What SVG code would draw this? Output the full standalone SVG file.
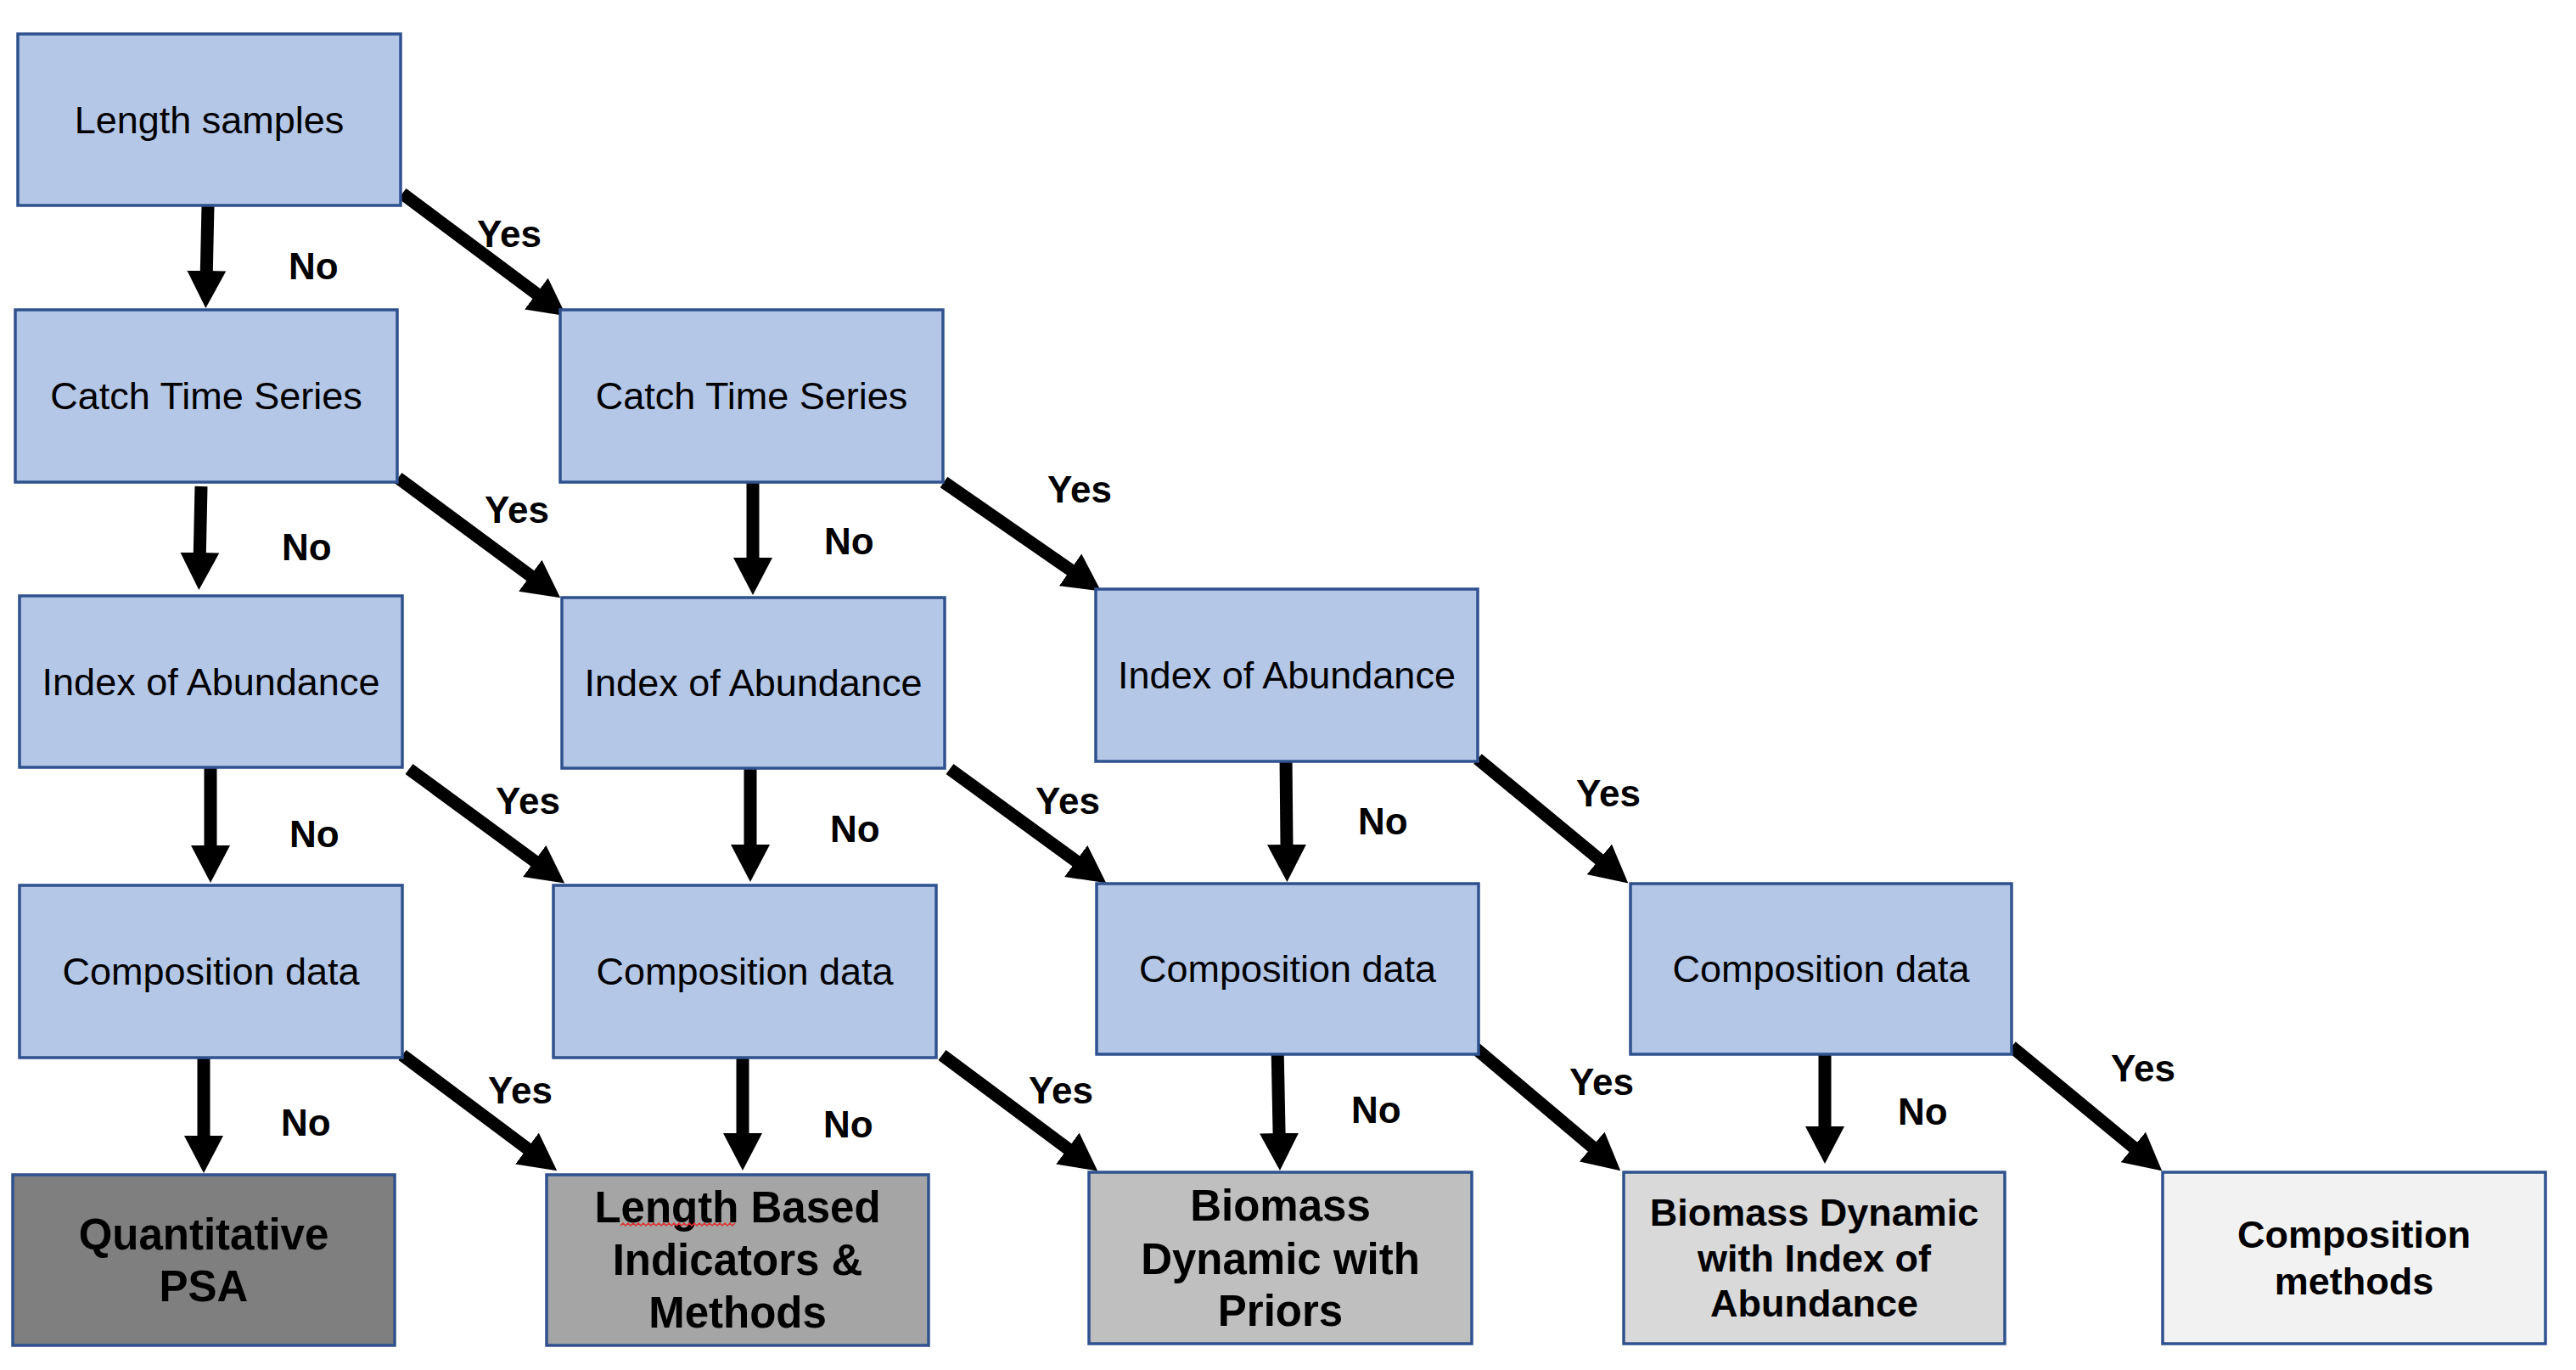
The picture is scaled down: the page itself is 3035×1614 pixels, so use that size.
<svg xmlns="http://www.w3.org/2000/svg" width="3035" height="1614" viewBox="0 0 3035 1614">
<style>
.n{fill:#B4C7E7;stroke:#2F528F;stroke-width:3.5}
.t{font-family:"Liberation Sans",Arial,sans-serif;font-size:45px;fill:#000;text-anchor:middle}
.b{font-family:"Liberation Sans",Arial,sans-serif;font-weight:bold;fill:#000;text-anchor:middle}
.l{font-family:"Liberation Sans",Arial,sans-serif;font-weight:bold;font-size:44px;fill:#000}
.c{stroke:#000;stroke-width:15;fill:none;marker-end:url(#ah)}
</style>
<defs>
<marker id="ah" markerUnits="userSpaceOnUse" viewBox="0 0 44 46" markerWidth="44" markerHeight="46" refX="1" refY="23" orient="auto">
<path d="M0,0 L44,23 L0,46 z" fill="#000"/>
</marker>
</defs>
<rect width="3035" height="1614" fill="#fff"/>
<g id="connectors">
<line class="c" x1="245" y1="242" x2="243.3" y2="320"/>
<line class="c" x1="474" y1="228" x2="632.7" y2="346.6"/>
<line class="c" x1="237" y1="573" x2="235.3" y2="652"/>
<line class="c" x1="469" y1="563" x2="625.6" y2="678.8"/>
<line class="c" x1="887" y1="567" x2="887" y2="658"/>
<line class="c" x1="1112" y1="568" x2="1261.9" y2="671.9"/>
<line class="c" x1="248" y1="904" x2="248" y2="997"/>
<line class="c" x1="482" y1="906" x2="630.5" y2="1015"/>
<line class="c" x1="884" y1="905" x2="884" y2="996"/>
<line class="c" x1="1119" y1="906" x2="1268.5" y2="1015"/>
<line class="c" x1="1515" y1="891" x2="1516" y2="996"/>
<line class="c" x1="1741" y1="894" x2="1885.1" y2="1013"/>
<line class="c" x1="240" y1="1246" x2="240" y2="1339"/>
<line class="c" x1="474" y1="1243" x2="621.8" y2="1353.6"/>
<line class="c" x1="875" y1="1246" x2="875" y2="1336"/>
<line class="c" x1="1110" y1="1243" x2="1258.7" y2="1353.7"/>
<line class="c" x1="1505" y1="1231" x2="1507.1" y2="1336"/>
<line class="c" x1="1736" y1="1233" x2="1876.4" y2="1351.6"/>
<line class="c" x1="2150" y1="1239" x2="2150" y2="1328"/>
<line class="c" x1="2370" y1="1233" x2="2514.1" y2="1352"/>
</g>
<g id="labels">
<text class="l" x="340" y="329">No</text>
<text class="l" x="562" y="291">Yes</text>
<text class="l" x="332" y="660">No</text>
<text class="l" x="571" y="616">Yes</text>
<text class="l" x="971" y="653">No</text>
<text class="l" x="1234" y="592">Yes</text>
<text class="l" x="341" y="998">No</text>
<text class="l" x="584" y="959">Yes</text>
<text class="l" x="978" y="992">No</text>
<text class="l" x="1220" y="959">Yes</text>
<text class="l" x="1600" y="983">No</text>
<text class="l" x="1857" y="950">Yes</text>
<text class="l" x="331" y="1338">No</text>
<text class="l" x="575" y="1300">Yes</text>
<text class="l" x="970" y="1340">No</text>
<text class="l" x="1212" y="1300">Yes</text>
<text class="l" x="1592" y="1323">No</text>
<text class="l" x="1849" y="1290">Yes</text>
<text class="l" x="2236" y="1325">No</text>
<text class="l" x="2487" y="1274">Yes</text>
</g>
<g id="length-samples"><rect class="n" x="21" y="40" width="451" height="202"/><text class="t" x="246.5" y="157">Length samples</text></g>
<g id="catch-1"><rect class="n" x="18" y="365" width="450" height="203"/><text class="t" x="243" y="482">Catch Time Series</text></g>
<g id="catch-2"><rect class="n" x="660" y="365" width="451" height="203"/><text class="t" x="885.5" y="482">Catch Time Series</text></g>
<g id="index-1"><rect class="n" x="23" y="702" width="451" height="202"/><text class="t" x="248.5" y="819">Index of Abundance</text></g>
<g id="index-2"><rect class="n" x="662" y="704" width="451" height="201"/><text class="t" x="887.5" y="820">Index of Abundance</text></g>
<g id="index-3"><rect class="n" x="1291" y="694" width="450" height="203"/><text class="t" x="1516" y="811">Index of Abundance</text></g>
<g id="comp-1"><rect class="n" x="23" y="1043" width="451" height="203"/><text class="t" x="248.5" y="1160">Composition data</text></g>
<g id="comp-2"><rect class="n" x="652" y="1043" width="451" height="203"/><text class="t" x="877.5" y="1160">Composition data</text></g>
<g id="comp-3"><rect class="n" x="1292" y="1041" width="450" height="201"/><text class="t" x="1517" y="1157">Composition data</text></g>
<g id="comp-4"><rect class="n" x="1921" y="1041" width="449" height="201"/><text class="t" x="2145.5" y="1157">Composition data</text></g>
<g id="quantitative-psa"><rect class="n" style="fill:#7F7F7F" x="15" y="1384" width="450" height="201"/><text class="b" font-size="51" x="240" y="1472">Quantitative</text><text class="b" font-size="51" x="240" y="1533">PSA</text></g>
<g id="length-based"><rect class="n" style="fill:#A5A5A5" x="644" y="1384" width="450" height="201"/><text class="b" font-size="51" x="869" y="1440">Length Based</text><text class="b" font-size="51" x="869" y="1502">Indicators &amp;</text><text class="b" font-size="51" x="869" y="1564">Methods</text><path d="M731,1444 l3,-3 l3,3 l3,-3 l3,3 l3,-3 l3,3 l3,-3 l3,3 l3,-3 l3,3 l3,-3 l3,3 l3,-3 l3,3 l3,-3 l3,3 l3,-3 l3,3 l3,-3 l3,3 l3,-3 l3,3 l3,-3 l3,3 l3,-3 l3,3 l3,-3 l3,3 l3,-3 l3,3 l3,-3 l3,3 l3,-3 l3,3 l3,-3 l3,3 l3,-3 l3,3 l3,-3 l3,3 l3,-3 l3,3 l3,-3 l3,3 l3,-3" fill="none" stroke="#E03030" stroke-width="1.5"/></g>
<g id="biomass-priors"><rect class="n" style="fill:#BFBFBF" x="1283" y="1381" width="451" height="202"/><text class="b" font-size="51" x="1508.5" y="1438">Biomass</text><text class="b" font-size="51" x="1508.5" y="1501">Dynamic with</text><text class="b" font-size="51" x="1508.5" y="1562">Priors</text></g>
<g id="biomass-index"><rect class="n" style="fill:#D9D9D9" x="1913" y="1381" width="449" height="202"/><text class="b" font-size="45" x="2137.5" y="1444">Biomass Dynamic</text><text class="b" font-size="45" x="2137.5" y="1498">with Index of</text><text class="b" font-size="45" x="2137.5" y="1551">Abundance</text></g>
<g id="composition-methods"><rect class="n" style="fill:#F2F2F2" x="2548" y="1381" width="451" height="202"/><text class="b" font-size="45" x="2773.5" y="1470">Composition</text><text class="b" font-size="45" x="2773.5" y="1525">methods</text></g>
</svg>
